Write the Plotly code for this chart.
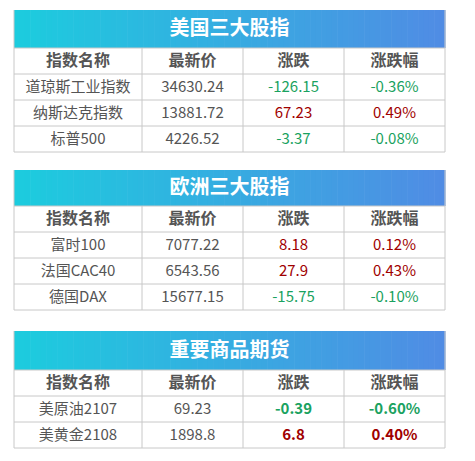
import plotly.graph_objects as go

W, H = 475, 461
OFF = 8  # page body margin shift

titles = ['美国三大股指', '欧洲三大股指', '重要商品期货']
col_names = ['指数名称', '最新价', '涨跌', '涨跌幅']

names = [['道琼斯工业指数', '纳斯达克指数', '标普500'],
         ['富时100', '法国CAC40', '德国DAX'],
         ['美原油2107', '美黄金2108']]
prices = [['34630.24', '13881.72', '4226.52'],
          ['7077.22', '6543.56', '15677.15'],
          ['69.23', '1898.8']]
changes = [['-126.15', '67.23', '-3.37'],
           ['8.18', '27.9', '-15.75'],
           ['-0.39', '6.8']]
pcts = [['-0.36%', '0.49%', '-0.08%'],
        ['0.12%', '0.43%', '-0.10%'],
        ['-0.60%', '0.40%']]

tops = [10, 170, 331]
title_h = [38, 36, 39]
row_h = 26
cols = [14, 142, 243, 344, 445]
GREEN, RED, GRAY, LINE = '#1aa260', '#a00000', '#555555', '#c8c8c8'
FONT = 'Noto Sans CJK SC'

fig = go.Figure()
shapes = []
n_steps = 80
c_left, c_right = (28, 204, 222), (80, 140, 228)
centers = [(cols[i] + cols[i + 1]) / 2 for i in range(4)]

for s in range(3):
    t, th = tops[s], title_h[s]
    x0, x1 = cols[0], cols[-1]
    for i in range(n_steps):
        f = i / (n_steps - 1)
        col = 'rgb(%d,%d,%d)' % tuple(round(a + (b - a) * f) for a, b in zip(c_left, c_right))
        shapes.append(dict(type='rect', x0=x0 + (x1 - x0) * i / n_steps,
                           x1=x0 + (x1 - x0) * (i + 1) / n_steps + 0.6,
                           y0=t, y1=t + th, fillcolor=col, line_width=0, layer='below'))
    fig.add_trace(go.Scatter(x=[(x0 + x1) / 2], y=[t + th / 2 + 1], mode='text',
                             text=['<b>%s</b>' % titles[s]],
                             textfont=dict(size=20, color='white', family=FONT)))
    n = len(names[s])
    top = t + th
    bottom = top + row_h * (n + 1)
    # grid
    for k in range(n + 2):
        y = top + k * row_h
        shapes.append(dict(type='line', x0=x0, x1=x1, y0=y, y1=y, line=dict(color=LINE, width=1)))
    for c in cols:
        shapes.append(dict(type='line', x0=c, x1=c, y0=top, y1=bottom, line=dict(color=LINE, width=1)))
    shapes.append(dict(type='line', x0=x0, x1=x0, y0=t, y1=top, line=dict(color=LINE, width=1)))
    shapes.append(dict(type='line', x0=x1, x1=x1, y0=t, y1=top, line=dict(color=LINE, width=1)))
    ys = [top + row_h * (k + 0.5) + 1 for k in range(n + 1)]
    bold = s == 2
    chg_col = [GREEN if v.startswith('-') else RED for v in changes[s]]
    columns = [names[s], prices[s], changes[s], pcts[s]]
    for j in range(4):
        vals = columns[j]
        if bold and j >= 2:
            vals = ['<b>%s</b>' % v for v in vals]
        colors = [GRAY] + ([GRAY] * n if j < 2 else chg_col)
        fig.add_trace(go.Scatter(x=[centers[j]] * (n + 1), y=ys, mode='text',
                                 text=['<b>%s</b>' % col_names[j]] + list(vals),
                                 textfont=dict(size=[16] + [15] * n, color=colors, family=FONT)))

fig.update_layout(width=W, height=H, margin=dict(l=0, r=0, t=0, b=0),
                  paper_bgcolor='white', plot_bgcolor='white', shapes=shapes, showlegend=False,
                  xaxis=dict(range=[OFF, OFF + W], visible=False, fixedrange=True),
                  yaxis=dict(range=[OFF + H, OFF], visible=False, fixedrange=True))
fig.write_html('out.html')
